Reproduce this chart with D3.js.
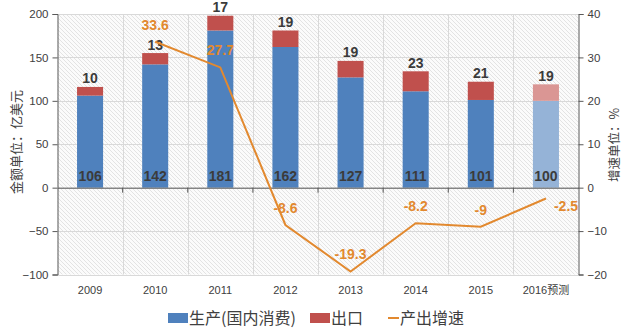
<!DOCTYPE html>
<html><head><meta charset="utf-8">
<script src="https://cdn.jsdelivr.net/npm/d3@7"></script>
<style>
html,body{margin:0;padding:0;background:#fff;}
svg{display:block;}
</style></head>
<body>
<svg id="chart" width="631" height="329"></svg>
<script>
const categories = ["2009","2010","2011","2012","2013","2014","2015","2016预测"];
const production = [106,142,181,162,127,111,101,100];
const exportsVal = [10,13,17,19,19,23,21,19];
const growth = [null,33.6,27.7,-8.6,-19.3,-8.2,-9,-2.5];
const leftTicks = [-100,-50,0,50,100,150,200];
const rightTicks = [-20,-10,0,10,20,30,40];
const seriesNames = ["生产(国内消费)","出口","产出增速"];

const svg = d3.select("#chart");
const L = 57.5, R = 578.5, T = 14, B = 274.5;
const x = d3.scaleBand().domain(categories).range([L, R]).paddingInner(0.6).paddingOuter(0.3);
const band = d3.scaleBand().domain(categories).range([L, R]);
const y = d3.scaleLinear().domain([-100, 200]).range([B, T]);
const y2 = d3.scaleLinear().domain([-20, 40]).range([B, T]);

const font = "'Liberation Sans', Arial, sans-serif";
const cjk = "'Noto Sans CJK SC', 'Noto Sans', sans-serif";
const textCol = "#404040";
const orange = "#E2892F";

// hatch pattern
const defs = svg.append("defs");
const pat = defs.append("pattern").attr("id","hatch").attr("patternUnits","userSpaceOnUse")
  .attr("width",4).attr("height",4);
pat.append("rect").attr("width",4).attr("height",4).attr("fill","#fbfbfb");
pat.append("path").attr("d","M-1,-1 L5,5 M-1,3 L1,5 M3,-1 L5,1").attr("stroke","#e3e3e3").attr("stroke-width",1);

svg.append("rect").attr("x",L).attr("y",T).attr("width",R-L).attr("height",B-T).attr("fill","url(#hatch)");

// horizontal gridlines
svg.append("g").selectAll("line").data(leftTicks).join("line")
  .attr("x1",L).attr("x2",R).attr("y1",d=>Math.round(y(d))+0.5).attr("y2",d=>Math.round(y(d))+0.5)
  .attr("stroke","#d9d9d9").attr("stroke-width",1);
// vertical gridlines
svg.append("g").selectAll("line").data(categories.slice(1)).join("line")
  .attr("x1",d=>Math.round(band(d))+0.5).attr("x2",d=>Math.round(band(d))+0.5).attr("y1",T).attr("y2",B)
  .attr("stroke","#d9d9d9").attr("stroke-width",1);

// bars
const isFc = i => i === categories.length - 1;
svg.append("g").selectAll("rect").data(production).join("rect")
  .attr("x",(d,i)=>x(categories[i])).attr("width",x.bandwidth())
  .attr("y",d=>y(d)).attr("height",d=>y(0)-y(d))
  .attr("fill",(d,i)=>isFc(i)?"#95B3D7":"#4F81BD");
svg.append("g").selectAll("rect").data(exportsVal).join("rect")
  .attr("x",(d,i)=>x(categories[i])).attr("width",x.bandwidth())
  .attr("y",(d,i)=>y(production[i]+d)).attr("height",(d,i)=>y(production[i])-y(production[i]+d))
  .attr("fill",(d,i)=>isFc(i)?"#DA9694":"#C0504D");

// axes
const gL = svg.append("g").attr("transform",`translate(${L},0)`)
  .call(d3.axisLeft(y).tickValues(leftTicks).tickSize(5).tickPadding(4).tickFormat(d3.format("d")));
const gR = svg.append("g").attr("transform",`translate(${R},0)`)
  .call(d3.axisRight(y2).tickValues(rightTicks).tickSize(5).tickPadding(4).tickFormat(d3.format("d")));
[gL,gR].forEach(g=>{
  g.select(".domain").attr("stroke","#595959");
  g.selectAll(".tick line").attr("stroke","#595959");
  g.selectAll("text").attr("fill",textCol).style("font-family",font).style("font-size","11.5px");
});
const gX = svg.append("g").attr("transform",`translate(0,${y(0)})`)
  .call(d3.axisBottom(band).tickValues([]).tickSizeOuter(0));
gX.select(".domain").attr("stroke","#595959");
gX.selectAll("line.bnd").data(categories.slice(1)).join("line").attr("class","bnd")
  .attr("x1",d=>band(d)).attr("x2",d=>band(d)).attr("y1",0).attr("y2",5).attr("stroke","#595959");

// category labels
svg.append("g").selectAll("text").data(categories).join("text")
  .attr("x",d=>band(d)+band.bandwidth()/2).attr("y",294)
  .attr("text-anchor","middle").attr("fill",textCol)
  .style("font-size","11px")
  .each(function(d){
    const m = d.match(/^(\d+)(.*)$/);
    const t = d3.select(this);
    t.append("tspan").style("font-family",font).text(m[1]);
    if (m[2]) t.append("tspan").style("font-family",cjk).text(m[2]);
  });

// value labels
svg.append("g").selectAll("text").data(production).join("text")
  .attr("x",(d,i)=>x(categories[i])+x.bandwidth()/2).attr("y",y(0)-7)
  .attr("text-anchor","middle").attr("fill","#3b3b3b").style("font-family",font)
  .style("font-size","14px").style("font-weight","bold").text(d=>d);
svg.append("g").selectAll("text").data(exportsVal).join("text")
  .attr("x",(d,i)=>x(categories[i])+x.bandwidth()/2).attr("y",(d,i)=>y(production[i]+d)-3.5)
  .attr("text-anchor","middle").attr("fill","#3b3b3b").style("font-family",font)
  .style("font-size","14px").style("font-weight","bold").text(d=>d);

// growth line
const pts = growth.map((v,i)=>({c:categories[i],v})).filter(p=>p.v!==null);
const cx = c => band(c)+band.bandwidth()/2;
svg.append("path").datum(pts)
  .attr("d",d3.line().x(p=>cx(p.c)).y(p=>y2(p.v)))
  .attr("fill","none").attr("stroke",orange).attr("stroke-width",2);
svg.append("g").selectAll("text").data(pts).join("text")
  .attr("x",(p,i)=> i===pts.length-1 ? cx(p.c)+8 : cx(p.c))
  .attr("y",(p,i)=> i===pts.length-1 ? y2(p.v)+12 : y2(p.v)-12)
  .attr("text-anchor",(p,i)=> i===pts.length-1 ? "start" : "middle")
  .attr("fill",orange).style("font-family",font).style("font-size","14px").style("font-weight","bold")
  .text(p=>p.v);

// axis titles
svg.append("text").attr("transform",`translate(21,142) rotate(-90)`)
  .attr("text-anchor","middle").attr("fill",textCol).style("font-family",cjk).style("font-size","13px")
  .text("金额单位：亿美元");
svg.append("text").attr("transform",`translate(619,145) rotate(-90)`)
  .attr("text-anchor","middle").attr("fill",textCol).style("font-family",cjk).style("font-size","12.5px")
  .text("增速单位：%");

// legend
const lg = svg.append("g").style("font-family",cjk).style("font-size","16px");
lg.append("rect").attr("x",168).attr("y",313).attr("width",20).attr("height",10).attr("fill","#4F81BD");
lg.append("text").attr("x",189).attr("y",324).attr("fill",textCol).text(seriesNames[0]);
lg.append("rect").attr("x",310).attr("y",313).attr("width",20).attr("height",10).attr("fill","#C0504D");
lg.append("text").attr("x",331).attr("y",324).attr("fill",textCol).text(seriesNames[1]);
lg.append("line").attr("x1",388).attr("x2",399).attr("y1",318).attr("y2",318).attr("stroke",orange).attr("stroke-width",2);
lg.append("text").attr("x",400).attr("y",324).attr("fill",textCol).text(seriesNames[2]);
</script>
</body></html>
